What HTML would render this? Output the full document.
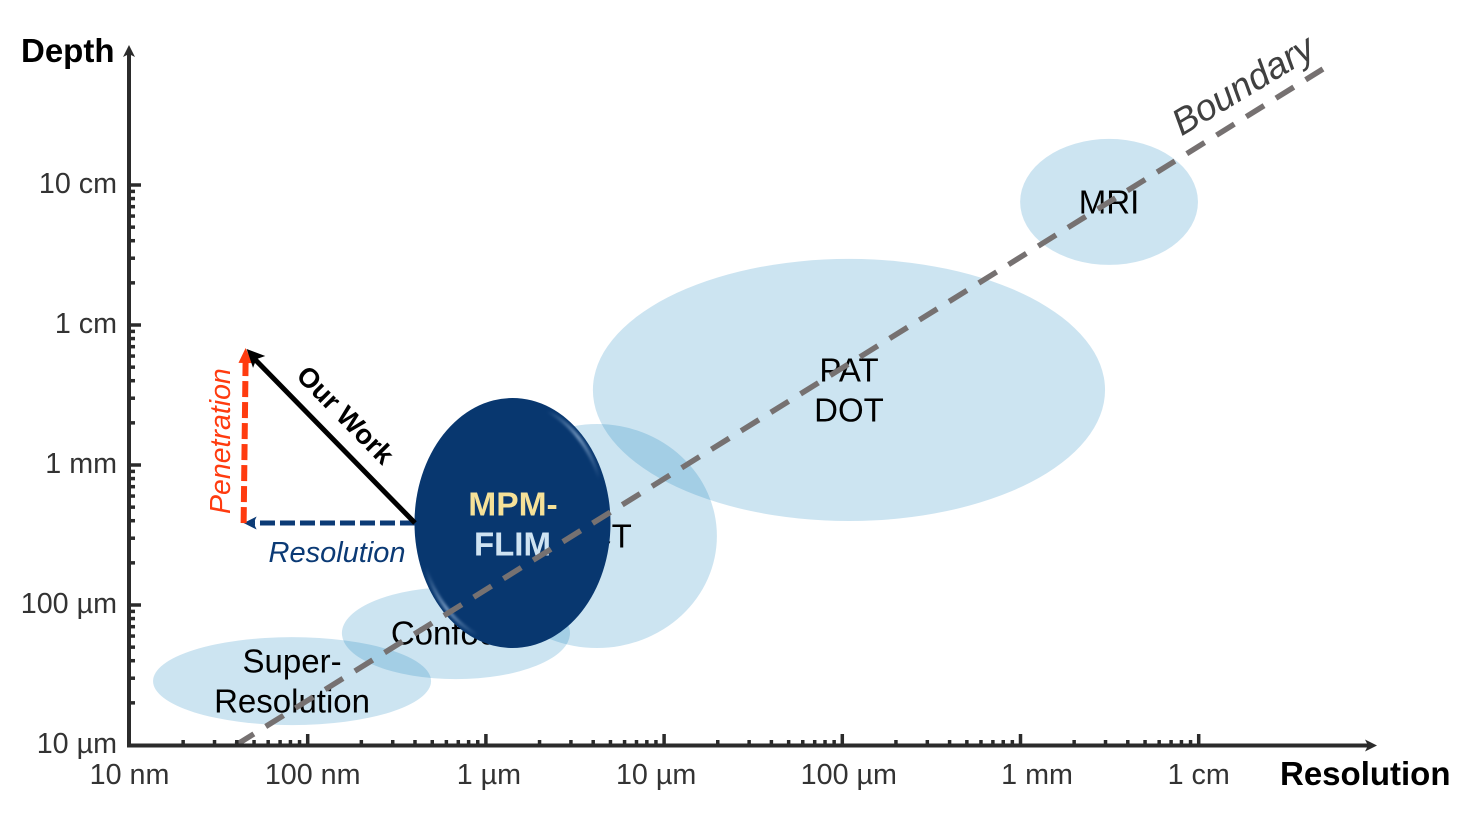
<!DOCTYPE html>
<html lang="en">
<head>
<meta charset="utf-8">
<title>Depth versus resolution of imaging techniques</title>
<style>
html,body{margin:0;padding:0;background:#fff;}
svg{display:block;font-family:"Liberation Sans",Arial,sans-serif;}
</style>
</head>
<body>
<svg id="chart" xmlns="http://www.w3.org/2000/svg" width="1472" height="814" viewBox="0 0 1472 814">
  <defs>
    <linearGradient id="rimGradient" x1="0" y1="0" x2="1" y2="1">
      <stop offset="0" stop-color="#9dbbdc" stop-opacity="0"/>
      <stop offset="0.36" stop-color="#9dbbdc" stop-opacity="0"/>
      <stop offset="0.5" stop-color="#9dbbdc" stop-opacity="0.7"/>
      <stop offset="0.64" stop-color="#9dbbdc" stop-opacity="0"/>
      <stop offset="1" stop-color="#9dbbdc" stop-opacity="0"/>
    </linearGradient>
    <filter id="rimBlur" x="-10%" y="-10%" width="120%" height="120%"><feGaussianBlur stdDeviation="1.3"/></filter>
  </defs>
  <g id="techniques"></g>
  <g id="hero"></g>
  <g id="boundary"></g>
  <g id="annotations"></g>
  <g id="axes"></g>
  <text x="21" y="62" font-size="33" font-weight="700" fill="#000">Depth</text>
  <text x="1280" y="785" font-size="33" font-weight="700" fill="#000">Resolution</text>
</svg>
<script>
/* ---------- chart data (all lengths in micrometres, spreads in decades) ---------- */
const xTickLabels = ["10 nm", "100 nm", "1 µm", "10 µm", "100 µm", "1 mm", "1 cm"];
const xTickValues = [0.01, 0.1, 1, 10, 100, 1000, 10000];
const yTickLabels = ["10 µm", "100 µm", "1 mm", "1 cm", "10 cm"];
const yTickValues = [10, 100, 1000, 10000, 100000];

const techniqueNames = ["Super-\nResolution", "Confocal", "OCT", "PAT\nDOT", "MRI"];
const techniqueResolution = [0.0817, 0.679, 4.2, 109, 3140];
const techniqueDepth = [28.6, 63, 311, 3435, 75700];
const techniqueResolutionSpread = [0.78, 0.64, 0.673, 1.437, 0.499];
const techniqueDepthSpread = [0.314, 0.329, 0.8, 0.936, 0.45];

const heroResolution = 1.41;
const heroDepth = 385;
const heroResolutionSpread = 0.55;
const heroDepthSpread = 0.893;

const boundaryResolution = [0.0396, 49800];
const boundaryDepth = [10, 674000];

const workResolution = [0.4, 0.0437];
const workDepth = [385, 6850];

/* ---------- axis functions ---------- */
const X0 = 129.5, Y0 = 745, XDEC = 178.2, YDEC = 140;
function xScale(v) { return X0 + XDEC * (Math.log10(v) + 2); }
function yScale(v) { return Y0 - YDEC * (Math.log10(v) - 1); }

const NS = "http://www.w3.org/2000/svg";
function make(parent, tag, attrs, txt) {
  const el = document.createElementNS(NS, tag);
  for (const k in attrs) el.setAttribute(k, attrs[k]);
  if (txt !== undefined) el.textContent = txt;
  parent.appendChild(el);
  return el;
}
function head(parent, tx, ty, fromX, fromY, len, half, notch, fill) {
  const dx = tx - fromX, dy = ty - fromY, d = Math.hypot(dx, dy) || 1;
  const ux = dx / d, uy = dy / d, px = -uy, py = ux;
  const bx = tx - ux * len, by = ty - uy * len;
  const nx = tx - ux * (len - notch), ny = ty - uy * (len - notch);
  const pts = [[tx, ty], [bx + px * half, by + py * half], [nx, ny], [bx - px * half, by - py * half]];
  return make(parent, "polygon", { points: pts.map(p => p.join(",")).join(" "), fill: fill });
}

/* ---------- technique regions ---------- */
const techG = document.getElementById("techniques");
techniqueNames.forEach(function (name, i) {
  const cx = xScale(techniqueResolution[i]);
  const cy = yScale(techniqueDepth[i]);
  const slug = name.replace(/\n/g, "-").toLowerCase().replace(/-+/g, "-");
  const ell = make(techG, "ellipse", {
    cx: cx, cy: cy,
    rx: techniqueResolutionSpread[i] * XDEC,
    ry: techniqueDepthSpread[i] * YDEC,
    fill: "#0076b8", "fill-opacity": 0.2
  });
  
  
});
techniqueNames.forEach(function (name, i) {
  const cx = xScale(techniqueResolution[i]);
  const cy = yScale(techniqueDepth[i]);
  const slug = name.replace(/\n/g, "-").toLowerCase().replace(/-+/g, "-");
  const lines = name.split("\n");
  lines.forEach(function (line, j) {
    const t = make(techG, "text", {
      x: cx, y: cy + (j - (lines.length - 1) / 2) * 40 + 11.5,
      "font-size": 33, "text-anchor": "middle", fill: "#000"
    }, line);
    
    
  });
});

/* ---------- MPM-FLIM hero ellipse ---------- */
const heroG = document.getElementById("hero");
const hx = xScale(heroResolution), hy = yScale(heroDepth);
const hrx = heroResolutionSpread * XDEC, hry = heroDepthSpread * YDEC;
const heroEl = make(heroG, "ellipse", { cx: hx, cy: hy, rx: hrx, ry: hry, fill: "#08376f" });


const rimEl = make(heroG, "ellipse", { cx: hx, cy: hy, rx: hrx - 4.5, ry: hry - 4.5, fill: "none", stroke: "url(#rimGradient)", "stroke-width": 3.5, filter: "url(#rimBlur)" });


const mpmText = make(heroG, "text", { x: hx + 0.5, y: hy - 7.5, "font-size": 33.6, "font-weight": 700, "text-anchor": "middle", fill: "#f5e198" }, "MPM-");


const flimText = make(heroG, "text", { x: hx, y: hy + 32.5, "font-size": 33, "font-weight": 700, "text-anchor": "middle", fill: "#cfe3f2" }, "FLIM");



/* ---------- boundary ---------- */
const bG = document.getElementById("boundary");
const bx1 = xScale(boundaryResolution[0]), by1 = yScale(boundaryDepth[0]);
const bx2 = xScale(boundaryResolution[1]), by2 = yScale(boundaryDepth[1]);
const bLine = make(bG, "line", { x1: bx1, y1: by1, x2: bx2, y2: by2, stroke: "#767171", "stroke-width": 5.5, "stroke-dasharray": "21 13.99" });


const bText = make(bG, "text", { x: 0, y: 0, "font-size": 37, "font-style": "italic", fill: "#404040", transform: "translate(1181.5 136.5) rotate(-31)" }, "Boundary");



/* ---------- our-work annotation triangle ---------- */
const aG = document.getElementById("annotations");
const ax0 = xScale(workResolution[0]), ay0 = yScale(workDepth[0]);
const ax1 = xScale(workResolution[1]), ay1 = yScale(workDepth[1]);

const resLine = make(aG, "line", { x1: ax0, y1: ay0, x2: ax1 + 10, y2: ay0, stroke: "#0b3a75", "stroke-width": 5, "stroke-dasharray": "15 5" });


const resHead = head(aG, ax1, ay0, ax0, ay0, 13, 6.5, 3, "#0b3a75");



const penLine = make(aG, "line", { x1: ax1, y1: ay0, x2: ax1 + 2, y2: ay1 + 10, stroke: "#ff3b0f", "stroke-width": 6, "stroke-dasharray": "16 5" });


const penHead = head(aG, ax1 + 2, ay1, ax1, ay0, 15, 7, 0, "#ff3b0f");



const workLine = make(aG, "line", { x1: ax0, y1: ay0, x2: ax1 + 10, y2: ay1 + 10, stroke: "#000", "stroke-width": 5 });


const workHead = head(aG, ax1 + 3, ay1 + 1, ax0, ay0, 18, 8.5, 4, "#000");



const workLabel = make(aG, "text", { x: 0, y: 0, "font-size": 27.5, "font-weight": 700, fill: "#000", transform: "translate(295 377) rotate(45.5)" }, "Our Work");


const penLabel = make(aG, "text", { x: 0, y: 0, "font-size": 28.5, "font-style": "italic", fill: "#ff3b0f", transform: "translate(230 514) rotate(-90)" }, "Penetration");


const resLabel = make(aG, "text", { x: 268.5, y: 562, "font-size": 29, "font-style": "italic", fill: "#0b3a75" }, "Resolution");



/* ---------- axes ---------- */
const axG = document.getElementById("axes");
const AXC = "#2b2b2b";
const xAxis = make(axG, "line", { x1: 127, y1: 745.5, x2: 1370, y2: 745.5, stroke: AXC, "stroke-width": 4 });


const yAxis = make(axG, "line", { x1: 129, y1: 747, x2: 129, y2: 52, stroke: AXC, "stroke-width": 4 });


const xArrow = head(axG, 1377, 745.5, 1300, 745.5, 12, 6, 3, AXC);


const yArrow = head(axG, 129, 45, 129, 100, 12, 6, 3, AXC);



const xLabelNudge = [0, 5, 3, -8, 6.5, 16.5, 0];

xTickValues.forEach(function (v, i) {
  const x = xScale(v);
  if (i > 0) {
    const major = make(axG, "line", { x1: x, y1: 745, x2: x, y2: 734, stroke: AXC, "stroke-width": 3.5 });
    
    
  }
  if (i < xTickValues.length - 1) {
    for (let m = 2; m <= 9; m++) {
      const mx = xScale(v * m);
      const minor = make(axG, "line", { x1: mx, y1: 745, x2: mx, y2: 740, stroke: AXC, "stroke-width": 3.5 });
      
      
    }
  }
  const lab = make(axG, "text", { x: x + xLabelNudge[i], y: 784, "font-size": 28.7, "text-anchor": "middle", fill: "#333" }, xTickLabels[i]);
  
  
});

yTickValues.forEach(function (v, i) {
  const y = yScale(v);
  if (i > 0) {
    const major = make(axG, "line", { x1: 129, y1: y, x2: 141, y2: y, stroke: AXC, "stroke-width": 3.5 });
    
    
  }
  if (i < yTickValues.length - 1) {
    for (let m = 2; m <= 9; m++) {
      const my = yScale(v * m);
      const minor = make(axG, "line", { x1: 129, y1: my, x2: 135, y2: my, stroke: AXC, "stroke-width": 3.5 });
      
      
    }
  }
  const lab = make(axG, "text", { x: 117, y: y + 8, "font-size": 28.7, "text-anchor": "end", fill: "#333" }, yTickLabels[i]);
  
  
});
</script>
</body>
</html>
